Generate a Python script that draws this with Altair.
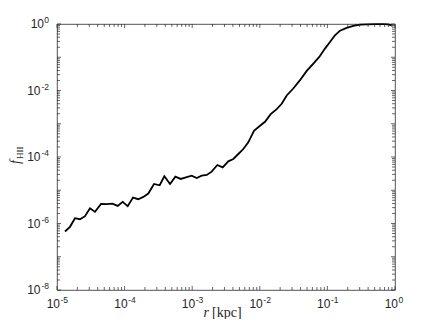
import altair as alt
import pandas as pd

# ---- data (log10 values) ----
r_log10 = [-4.882, -4.808, -4.734, -4.660, -4.586, -4.512, -4.438, -4.349, -4.265, -4.182,
           -4.102, -4.028, -3.954, -3.876, -3.797, -3.723, -3.649, -3.565, -3.481, -3.412,
           -3.328, -3.249, -3.170, -3.092, -3.008, -2.933, -2.859, -2.785, -2.712, -2.628,
           -2.549, -2.466, -2.392, -2.318, -2.244, -2.170, -2.086, -1.997, -1.923, -1.839,
           -1.750, -1.676, -1.602, -1.505, -1.405, -1.306, -1.208, -1.120, -1.036, -0.962,
           -0.888, -0.814, -0.715, -0.617, -0.518, -0.419, -0.271, -0.172, -0.099, -0.049]
f_log10 = [-6.24, -6.10, -5.84, -5.87, -5.78, -5.54, -5.65, -5.41, -5.42, -5.40,
           -5.47, -5.35, -5.48, -5.22, -5.27, -5.20, -5.10, -4.81, -4.85, -4.58,
           -4.81, -4.59, -4.66, -4.61, -4.56, -4.63, -4.56, -4.54, -4.44, -4.24,
           -4.31, -4.13, -4.06, -3.91, -3.76, -3.56, -3.21, -3.06, -2.94, -2.71,
           -2.56, -2.40, -2.15, -1.94, -1.69, -1.41, -1.19, -0.99, -0.74, -0.54,
           -0.34, -0.20, -0.115, -0.055, -0.02, -0.01, -0.005, -0.005, -0.01, -0.04]

x_decades = [1e-5, 1e-4, 1e-3, 1e-2, 1e-1, 1e0]
x_exponents = ["-5", "-4", "-3", "-2", "-1", "0"]
y_decades = [1e-8, 1e-7, 1e-6, 1e-5, 1e-4, 1e-3, 1e-2, 1e-1, 1e0]
y_label_values = [1e-8, 1e-6, 1e-4, 1e-2, 1e0]
y_exponents = ["-8", "-6", "-4", "-2", "0"]
minor_mult = [2, 3, 4, 5, 6, 7, 8, 9]

x_minor = [k * d for d in x_decades[:-1] for k in minor_mult]
y_minor = [k * d for d in y_decades[:-1] for k in minor_mult]

W, H = 338, 266
AX = "#262626"
SANS = "Liberation Sans"
SERIF = "Liberation Serif"
BASE_FS = 12
EXP_FS = 8.5

xs = alt.Scale(type="log", domain=[1e-5, 1], nice=False)
ys = alt.Scale(type="log", domain=[1e-8, 1], nice=False)

line_df = pd.DataFrame({"r": [10 ** v for v in r_log10], "f": [10 ** v for v in f_log10]})

line = alt.Chart(line_df).mark_line(color="black", strokeWidth=1.8).encode(
    x=alt.X("r:Q", scale=xs, axis=None),
    y=alt.Y("f:Q", scale=ys, axis=None),
)


def xticks(vals, L):
    df = pd.DataFrame({"v": vals})
    base = alt.Chart(df).mark_rule(color=AX, strokeWidth=0.7)
    bot = base.encode(x=alt.X("v:Q", scale=xs, axis=None), y=alt.value(H), y2=alt.value(H - L))
    top = base.encode(x=alt.X("v:Q", scale=xs, axis=None), y=alt.value(0), y2=alt.value(L))
    return [bot, top]


def yticks(vals, L):
    df = pd.DataFrame({"v": vals})
    base = alt.Chart(df).mark_rule(color=AX, strokeWidth=0.7)
    lef = base.encode(y=alt.Y("v:Q", scale=ys, axis=None), x=alt.value(0), x2=alt.value(L))
    rig = base.encode(y=alt.Y("v:Q", scale=ys, axis=None), x=alt.value(W), x2=alt.value(W - L))
    return [lef, rig]


ticks = xticks(x_decades, 4) + xticks(x_minor, 3) + yticks(y_decades, 4) + yticks(y_minor, 3)

# x tick labels: "10" + raised exponent
xl_df = pd.DataFrame({"v": x_decades, "e": x_exponents})
xlab_base = alt.Chart(xl_df).mark_text(
    text="10", font=SANS, fontSize=BASE_FS, color=AX, align="right", baseline="alphabetic", dx=3
).encode(x=alt.X("v:Q", scale=xs, axis=None), y=alt.value(H + 18))
xlab_exp = alt.Chart(xl_df).mark_text(
    font=SANS, fontSize=EXP_FS, color=AX, align="left", baseline="alphabetic", dx=3.5
).encode(x=alt.X("v:Q", scale=xs, axis=None), y=alt.value(H + 13), text="e:N")

# y tick labels
yl_df = pd.DataFrame({"v": y_label_values, "e": y_exponents})
ylab_exp = alt.Chart(yl_df).mark_text(
    font=SANS, fontSize=EXP_FS, color=AX, align="right", baseline="alphabetic", dy=-1
).encode(y=alt.Y("v:Q", scale=ys, axis=None), x=alt.value(-8), text="e:N")
ylab_base_neg = alt.Chart(yl_df).transform_filter("datum.e != '0'").mark_text(
    text="10", font=SANS, fontSize=BASE_FS, color=AX, align="right", baseline="alphabetic", dy=4
).encode(y=alt.Y("v:Q", scale=ys, axis=None), x=alt.value(-16.5))
ylab_base_zero = alt.Chart(yl_df).transform_filter("datum.e == '0'").mark_text(
    text="10", font=SANS, fontSize=BASE_FS, color=AX, align="right", baseline="alphabetic", dy=4
).encode(y=alt.Y("v:Q", scale=ys, axis=None), x=alt.value(-13))

one = pd.DataFrame({"a": [0]})
xt_r = alt.Chart(one).mark_text(
    text="r", font=SERIF, fontSize=14, fontStyle="italic", color=AX, align="right", baseline="alphabetic"
).encode(x=alt.value(W / 2 - 17), y=alt.value(H + 27))
xt_k = alt.Chart(one).mark_text(
    text="[kpc]", font=SERIF, fontSize=14, color=AX, align="left", baseline="alphabetic"
).encode(x=alt.value(W / 2 - 14), y=alt.value(H + 27))

yt_f = alt.Chart(one).mark_text(
    text="f", font=SERIF, fontSize=14, fontStyle="italic", color=AX, align="right",
    baseline="alphabetic", angle=270
).encode(x=alt.value(-37), y=alt.value(H / 2 + 3))
yt_h = alt.Chart(one).mark_text(
    text="HII", font=SERIF, fontSize=9, color=AX, align="left",
    baseline="alphabetic", angle=270
).encode(x=alt.value(-34), y=alt.value(H / 2 + 2))

chart = alt.layer(
    line, *ticks, xlab_base, xlab_exp, ylab_exp, ylab_base_neg, ylab_base_zero,
    xt_r, xt_k, yt_f, yt_h
).properties(
    width=W, height=H, autosize="none",
    padding={"left": 49, "top": 16, "right": 33, "bottom": 29},
    background="white",
).configure_view(stroke=AX, strokeWidth=0.8)

chart.save("out.html", embed_options={"renderer": "svg", "actions": False})
